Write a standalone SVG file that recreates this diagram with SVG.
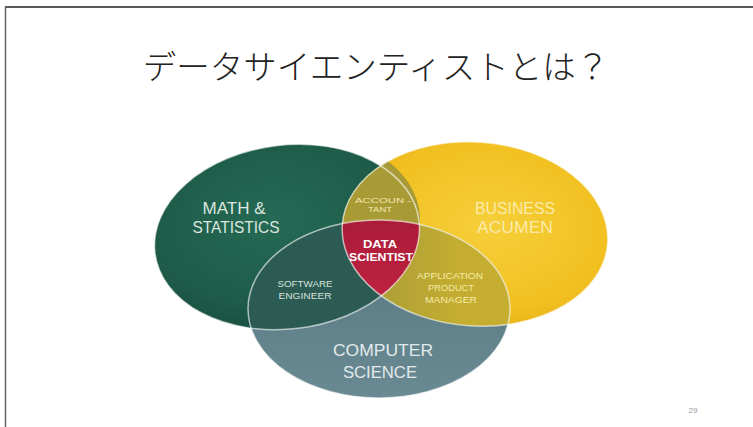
<svg xmlns="http://www.w3.org/2000/svg" width="753" height="427" viewBox="0 0 753 427">
  <style>
    .title { font-family: "Noto Sans CJK JP", "Noto Sans", sans-serif; font-size: 33.5px; font-weight: 300; fill: #222; }
    .big { font-family: "Liberation Sans", "Open Sans", sans-serif; font-size: 17px; text-anchor: middle; }
    .small { font-family: "Liberation Sans", "Open Sans", sans-serif; font-size: 9px; text-anchor: middle; }
    .tiny { font-family: "Liberation Sans", "Open Sans", sans-serif; font-size: 8px; text-anchor: middle; }
    .bold { font-family: "Liberation Sans", "Open Sans", sans-serif; font-size: 11px; font-weight: bold; text-anchor: middle; fill: #fff; }
    .outline { fill: none; stroke: #ffffff; stroke-opacity: 0.6; stroke-width: 1.5; }
  </style>
  <defs>
    <radialGradient id="gGreen" cx="0.45" cy="0.4" r="0.65">
      <stop offset="0" stop-color="#256a55"/>
      <stop offset="0.7" stop-color="#1e5b49"/>
      <stop offset="1" stop-color="#184c3e"/>
    </radialGradient>
    <radialGradient id="gYellow" cx="0.55" cy="0.45" r="0.65">
      <stop offset="0" stop-color="#f6cf3a"/>
      <stop offset="0.7" stop-color="#f1c020"/>
      <stop offset="1" stop-color="#e4ac14"/>
    </radialGradient>
    <linearGradient id="gCS" x1="0" y1="0" x2="0" y2="1">
      <stop offset="0" stop-color="#56777f"/>
      <stop offset="1" stop-color="#6a8a93"/>
    </linearGradient>
    <linearGradient id="gApp" x1="0" y1="0" x2="1" y2="0">
      <stop offset="0.4" stop-color="#a49b3c"/>
      <stop offset="0.8" stop-color="#c4ad30"/>
    </linearGradient>
    <radialGradient id="gRed" cx="0.5" cy="0.4" r="0.7">
      <stop offset="0" stop-color="#bd2240"/>
      <stop offset="1" stop-color="#9e1733"/>
    </radialGradient>
    <clipPath id="clipGreen">
      <ellipse cx="287" cy="237" rx="133" ry="92" transform="rotate(-7 287 237)"/>
    </clipPath>
    <clipPath id="clipYellow">
      <ellipse cx="475" cy="234" rx="133" ry="92" transform="rotate(4 475 234)"/>
    </clipPath>
  </defs>

  <rect x="0" y="0" width="753" height="427" fill="#ffffff"/>
  <g id="frame">
    <line x1="5" y1="7" x2="753" y2="7" stroke="#222" stroke-width="1.3"/>
    <line x1="5.5" y1="7" x2="5.5" y2="427" stroke="#666" stroke-width="1.5"/>
  </g>

  <g id="title">
    <text class="title" x="376" y="79" text-anchor="middle">データサイエンティストとは？</text>
  </g>

  <g id="math-statistics">
    <ellipse cx="287" cy="237" rx="133" ry="92" transform="rotate(-7 287 237)" fill="url(#gGreen)"/>
  </g>
  <g id="business-acumen">
    <ellipse cx="475" cy="234" rx="133" ry="92" transform="rotate(4 475 234)" fill="url(#gYellow)"/>
  </g>
  <g id="accountant">
    <ellipse cx="475" cy="234" rx="133" ry="92" transform="rotate(4 475 234)" fill="#a89b36" clip-path="url(#clipGreen)"/>
  </g>
  <g id="computer-science">
    <ellipse cx="379" cy="309" rx="131" ry="89" fill="url(#gCS)"/>
  </g>
  <g id="software-engineer">
    <ellipse cx="379" cy="309" rx="131" ry="89" fill="#2b5b53" clip-path="url(#clipGreen)"/>
  </g>
  <g id="application-product-manager">
    <ellipse cx="379" cy="309" rx="131" ry="89" fill="url(#gApp)" clip-path="url(#clipYellow)"/>
  </g>
  <g id="data-scientist">
    <g clip-path="url(#clipGreen)">
      <ellipse cx="379" cy="309" rx="131" ry="89" fill="url(#gRed)" clip-path="url(#clipYellow)"/>
    </g>
  </g>

  <g id="outlines">
    <ellipse class="outline" cx="287" cy="237" rx="133" ry="92" transform="rotate(-7 287 237)"/>
    <ellipse class="outline" cx="475" cy="234" rx="133" ry="92" transform="rotate(4 475 234)"/>
    <ellipse class="outline" cx="379" cy="309" rx="131" ry="89"/>
  </g>

  <g id="labels">
    <text class="big" x="234" y="214" fill="#dce6df" textLength="63" lengthAdjust="spacingAndGlyphs">MATH &amp;</text>
    <text class="big" x="236" y="233" fill="#dce6df" textLength="87" lengthAdjust="spacingAndGlyphs">STATISTICS</text>
    <text class="big" x="515" y="214" fill="#fbeaa8" textLength="80" lengthAdjust="spacingAndGlyphs">BUSINESS</text>
    <text class="big" x="515" y="233" fill="#fbeaa8" textLength="76" lengthAdjust="spacingAndGlyphs">ACUMEN</text>
    <text class="big" x="383" y="356" fill="#e2eaec" textLength="100" lengthAdjust="spacingAndGlyphs">COMPUTER</text>
    <text class="big" x="380" y="378" fill="#e2eaec" textLength="74" lengthAdjust="spacingAndGlyphs">SCIENCE</text>
    <text class="tiny" x="383" y="203" fill="#f3e8ae" textLength="56" lengthAdjust="spacingAndGlyphs">ACCOUN -</text>
    <text class="tiny" x="380" y="212" fill="#f3e8ae" textLength="24" lengthAdjust="spacingAndGlyphs">TANT</text>
    <text class="bold" x="380" y="248" textLength="34" lengthAdjust="spacingAndGlyphs">DATA</text>
    <text class="bold" x="381" y="261" textLength="64" lengthAdjust="spacingAndGlyphs">SCIENTIST</text>
    <text class="small" x="305" y="287" fill="#d6e2dc" textLength="55" lengthAdjust="spacingAndGlyphs">SOFTWARE</text>
    <text class="small" x="305" y="299" fill="#d6e2dc" textLength="53" lengthAdjust="spacingAndGlyphs">ENGINEER</text>
    <text class="small" x="450" y="279" fill="#f6eaa8" textLength="66" lengthAdjust="spacingAndGlyphs">APPLICATION</text>
    <text class="small" x="451" y="291" fill="#f6eaa8" textLength="46" lengthAdjust="spacingAndGlyphs">PRODUCT</text>
    <text class="small" x="451" y="303" fill="#f6eaa8" textLength="52" lengthAdjust="spacingAndGlyphs">MANAGER</text>
  </g>

  <g id="page-number">
    <text x="693" y="413" font-family="Liberation Sans, sans-serif" font-size="8" fill="#999" text-anchor="middle">29</text>
  </g>
</svg>
